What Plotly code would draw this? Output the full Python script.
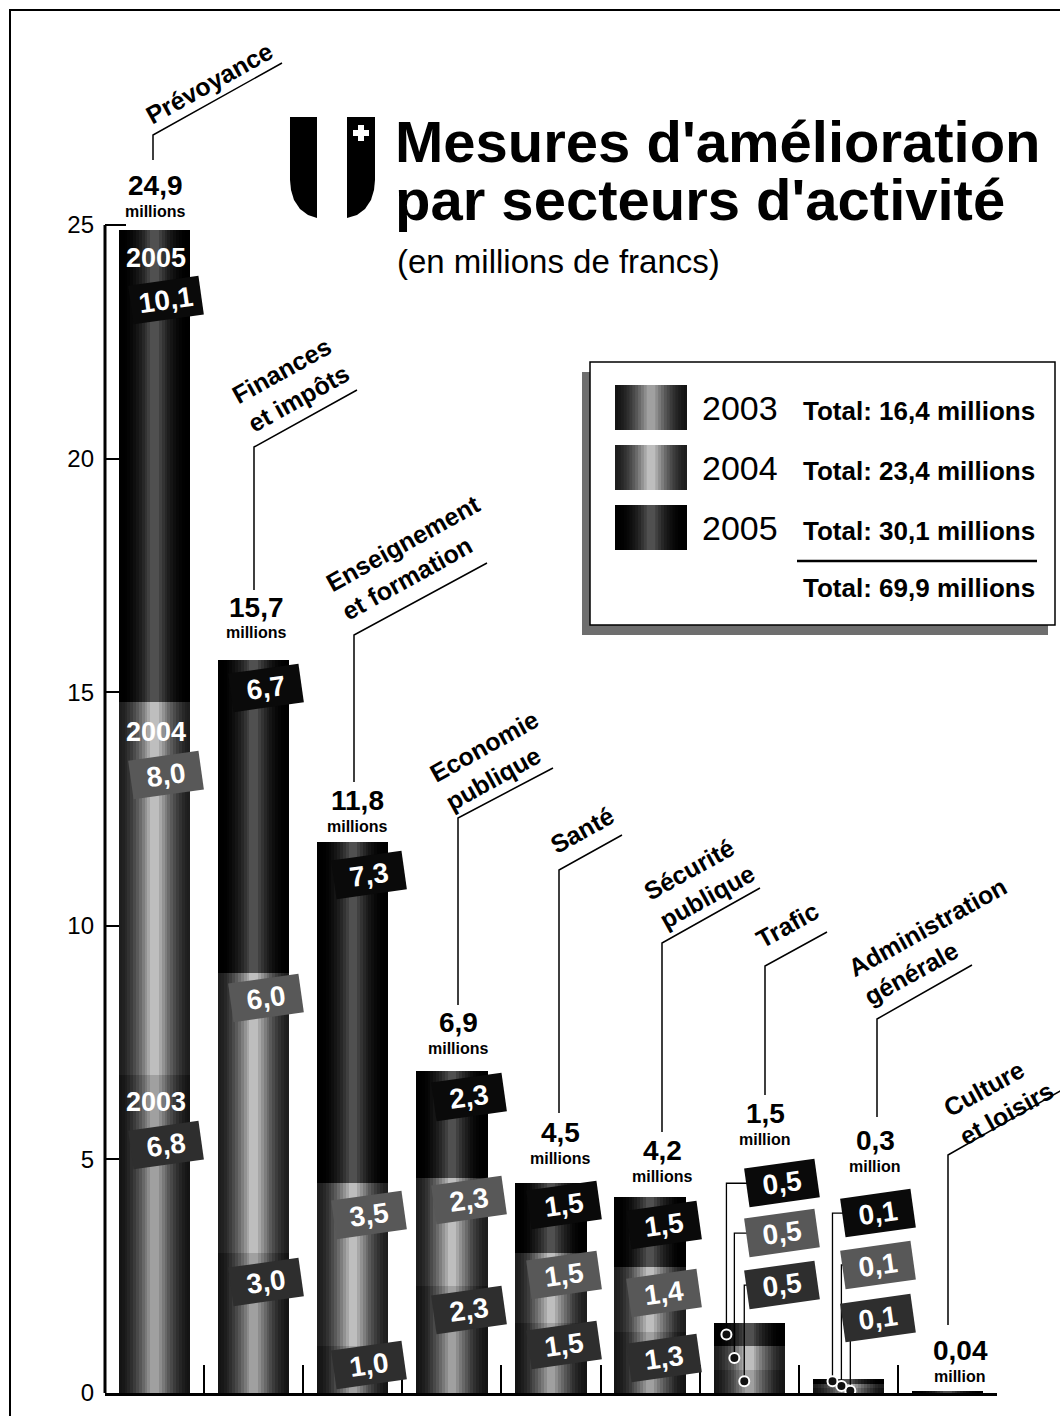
import plotly.graph_objects as go

# ---------------- data ----------------
categories = ["Prévoyance", "Finances<br>et impôts", "Enseignement<br>et formation",
              "Economie<br>publique", "Santé", "Sécurité<br>publique", "Trafic",
              "Administration<br>générale", "Culture<br>et loisirs"]
years = ["2003", "2004", "2005"]
v2003 = [6.8, 3.0, 1.0, 2.3, 1.5, 1.3, 0.5, 0.1, 0.01]
v2004 = [8.0, 6.0, 3.5, 2.3, 1.5, 1.4, 0.5, 0.1, 0.01]
v2005 = [10.1, 6.7, 7.3, 2.3, 1.5, 1.5, 0.5, 0.1, 0.02]
totals = [24.9, 15.7, 11.8, 6.9, 4.5, 4.2, 1.5, 0.3, 0.04]
total_units = ["millions"] * 6 + ["million"] * 3
year_totals = [16.4, 23.4, 30.1]
grand_total = 69.9
yticks = [0, 5, 10, 15, 20, 25]
ytick_labels = ["0", "5", "10", "15", "20", "25"]

# ---------------- geometry (layout only) ----------------
W, H = 1060, 1416
ML, MR, MT, MB = 105, 63, 0, 23
PW, PH = W - ML - MR, H - MT - MB
Y_TOP = 25 * PH / (1393 - 225)


def PX(x):
    return (x - ML) / PW


def PY(y):
    return (H - MB - y) / PH


def fmt(v):
    return str(v).replace(".", ",")


FONT = "Liberation Sans, Arial, sans-serif"
year_vals = [v2003, v2004, v2005]
bases = [[0] * 9,
         list(v2003),
         [a + b for a, b in zip(v2003, v2004)]]
xs = list(range(9))

edge_col = {"2003": (20, 20, 20), "2004": (30, 30, 30), "2005": (0, 0, 0)}
ctr_col = {"2003": (160, 160, 160), "2004": (190, 190, 190), "2005": (80, 80, 80)}
ctr_pow = {"2003": 1.6, "2004": 1.6, "2005": 2.2}
NL = 12
BAR_W = 0.72


def layer_list(yr):
    return [(1.0 - 0.88 * i / (NL - 1), (i / (NL - 1)) ** ctr_pow[yr]) for i in range(NL)]


def mix(a, b, t):
    return "rgb(%d,%d,%d)" % tuple(int(a[i] + (b[i] - a[i]) * t) for i in range(3))


fig = go.Figure()
for yi, yr in enumerate(years):
    for wf, t in layer_list(yr):
        fig.add_trace(go.Bar(
            x=xs, y=year_vals[yi], base=bases[yi], width=BAR_W * wf,
            marker=dict(color=mix(edge_col[yr], ctr_col[yr], t), line=dict(width=0)),
            showlegend=False, hoverinfo="skip"))

box_col = {"2003": "#2e2e2e", "2004": "#585858", "2005": "#0a0a0a"}

# value-label placement (data-unit y, offset in category units)
label_y = {
    0: [5.31, 13.23, 23.39], 1: [2.38, 8.45, 15.09], 2: [0.60, 3.81, 11.09],
    3: [1.78, 4.13, 6.34], 4: [1.03, 2.53, 4.02], 5: [0.75, 2.14, 3.60],
    6: [2.31, 3.42, 4.49], 7: [1.60, 2.74, 3.85]}
label_dx = {0: 0.12, 1: 0.12, 2: 0.16, 3: 0.17, 4: 0.13, 5: 0.14, 6: 0.33, 7: 0.30}

ann = []
for ci, ys in label_y.items():
    for yi, yr in enumerate(years):
        ann.append(dict(x=ci + label_dx[ci], y=ys[yi], xref="x", yref="y",
                        text="<b>%s</b>" % fmt(year_vals[yi][ci]), showarrow=False,
                        font=dict(family=FONT, size=28, color="white"),
                        bgcolor=box_col[yr], width=64, height=32, borderpad=3,
                        textangle=-8, xanchor="center", yanchor="middle"))

# year words on first bar
for yi, ypos in enumerate([6.23, 14.15, 24.29]):
    ann.append(dict(x=0.01, y=ypos, xref="x", yref="y", text="<b>%s</b>" % years[yi],
                    showarrow=False, xanchor="center", yanchor="middle",
                    font=dict(family=FONT, size=27, color="white")))

# leader lines + dots for small bars
dot_dx = {6: [-0.05, -0.15, -0.23], 7: [0.02, -0.07, -0.16]}
for ci, dxs in dot_dx.items():
    lx, ly, dxl, dyl = [], [], [], []
    for yi in range(3):
        mid = bases[yi][ci] + year_vals[yi][ci] / 2
        x0 = ci + label_dx[ci] - 0.35
        xd = ci + dxs[yi]
        lx += [x0, xd, xd, None]
        ly += [label_y[ci][yi], label_y[ci][yi], mid, None]
        dxl.append(xd)
        dyl.append(mid)
    fig.add_trace(go.Scatter(x=lx, y=ly, mode="lines", line=dict(color="black", width=1.3),
                             showlegend=False, hoverinfo="skip"))
    fig.add_trace(go.Scatter(x=dxl, y=dyl, mode="markers",
                             marker=dict(size=10, color="#111", line=dict(color="white", width=2)),
                             showlegend=False, hoverinfo="skip"))


def pann(x, y, text, size, bold=False, angle=0, xa="center", ya="middle", color="black", align="center"):
    return dict(x=PX(x), y=PY(y), xref="paper", yref="paper",
                text=("<b>%s</b>" % text) if bold else text, showarrow=False,
                xanchor=xa, yanchor=ya, textangle=angle, align=align,
                font=dict(family=FONT, size=size, color=color))


# totals above bars (pixel placement)
tot_px = [(155, 185), (256, 607), (357, 800), (458, 1022), (560, 1132),
          (662, 1150), (765, 1113), (875, 1140), (960, 1350)]
for i, (tx, ty) in enumerate(tot_px):
    ann.append(pann(tx, ty, fmt(totals[i]), 28, bold=True))
    ann.append(pann(tx, ty + 26, total_units[i], 16, bold=True))

# category names, rotated
cat_px = [(209, 83), (290, 384), (411, 557), (492, 760), (582, 830),
          (699, 882), (787, 925), (935, 941), (998, 1099)]
for i, (cx, cy) in enumerate(cat_px):
    ann.append(pann(cx, cy, categories[i], 25, bold=True, angle=-29, align="left"))

shapes = []
# underline + vertical leader for each category
lead = [((153, 135), (282, 63), 160), ((254, 447), (357, 390), 590),
        ((354, 635), (487, 563), 782), ((458, 818), (553, 768), 1005),
        ((559, 870), (622, 835), 1113), ((662, 943), (760, 888), 1132),
        ((765, 966), (827, 932), 1095), ((877, 1019), (972, 965), 1117),
        ((948, 1155), (1062, 1090), 1325)]
for (sx, sy), (ex, ey), vy in lead:
    shapes.append(dict(type="path", xref="paper", yref="paper",
                       path="M %f %f L %f %f L %f %f" % (PX(ex), PY(ey), PX(sx), PY(sy), PX(sx), PY(vy)),
                       line=dict(color="black", width=1.5)))

# y axis line from 0 to 25, with longer top tick
shapes.append(dict(type="line", xref="paper", yref="y", x0=0, x1=0, y0=0, y1=25,
                   line=dict(color="black", width=3)))
shapes.append(dict(type="line", xref="paper", yref="y", x0=0, x1=PX(126), y0=25, y1=25,
                   line=dict(color="black", width=2)))

# frame
shapes.append(dict(type="path", xref="paper", yref="paper",
                   path="M %f %f L %f %f L %f %f" % (PX(10), PY(1420), PX(10), PY(10), PX(1062), PY(10)),
                   line=dict(color="black", width=2)))


def ppath(pts, close=True):
    s = "M " + " L ".join("%f %f" % (PX(x), PY(y)) for x, y in pts)
    return s + (" Z" if close else "")


# Swiss shield logo
left_shield = [(290, 117), (317, 117), (317, 218), (308, 215), (300, 209), (294, 200), (291, 190), (290, 180)]
right_shield = [(347, 117), (375, 117), (375, 180), (374, 190), (371, 200), (365, 209), (357, 215), (347, 218)]
for pts in (left_shield, right_shield):
    shapes.append(dict(type="path", xref="paper", yref="paper", path=ppath(pts),
                       fillcolor="black", line=dict(width=0)))
for (x0, y0, x1, y1) in [(353, 130, 369, 136), (358, 125, 364, 141)]:
    shapes.append(dict(type="rect", xref="paper", yref="paper", x0=PX(x0), x1=PX(x1),
                       y0=PY(y1), y1=PY(y0), fillcolor="white", line=dict(width=0)))

# title
ann.append(pann(393, 142, "Mesures d'amélioration", 58, bold=True, xa="left"))
ann.append(pann(393, 200, "par secteurs d'activité", 58, bold=True, xa="left"))
ann.append(pann(395, 261, "(en millions de francs)", 33, xa="left"))

# legend box
shapes.append(dict(type="rect", xref="paper", yref="paper", x0=PX(582), x1=PX(1048),
                   y0=PY(635), y1=PY(372), fillcolor="#6e6e6e", line=dict(width=0)))
shapes.append(dict(type="rect", xref="paper", yref="paper", x0=PX(590), x1=PX(1055),
                   y0=PY(625), y1=PY(362), fillcolor="white", line=dict(color="black", width=1.5)))
row_y = [(385, 430), (445, 490), (505, 550)]
for yi, yr in enumerate(years):
    y0, y1 = row_y[yi]
    for wf, t in layer_list(yr):
        half = 36 * wf
        shapes.append(dict(type="rect", xref="paper", yref="paper", x0=PX(651 - half), x1=PX(651 + half),
                           y0=PY(y1), y1=PY(y0), fillcolor=mix(edge_col[yr], ctr_col[yr], t),
                           line=dict(width=0)))
    yc = (y0 + y1) / 2
    ann.append(pann(700, yc, yr, 34, xa="left"))
    ann.append(pann(1037, yc + 3, "Total: %s millions" % fmt(year_totals[yi]), 26, bold=True, xa="right"))
shapes.append(dict(type="line", xref="paper", yref="paper", x0=PX(797), x1=PX(1037),
                   y0=PY(561), y1=PY(561), line=dict(color="black", width=2.5)))
ann.append(pann(1037, 588, "Total: %s millions" % fmt(grand_total), 26, bold=True, xa="right"))

fig.update_layout(
    width=W, height=H, margin=dict(l=ML, r=MR, t=MT, b=MB, pad=0),
    paper_bgcolor="white", plot_bgcolor="rgba(0,0,0,0)",
    barmode="overlay", bargap=0, showlegend=False,
    annotations=ann, shapes=shapes,
    xaxis=dict(range=[-0.5, 8.5], tickvals=[i + 0.5 for i in range(9)], showticklabels=False,
               ticks="inside", ticklen=28, tickwidth=2, tickcolor="black",
               showline=True, linewidth=3, linecolor="black", showgrid=False, zeroline=False),
    yaxis=dict(range=[0, Y_TOP], tickvals=yticks, ticktext=ytick_labels,
               ticks="inside", ticklen=14, tickwidth=2, tickcolor="black",
               showline=False, showgrid=False, zeroline=False, ticklabelstandoff=10,
               tickfont=dict(family=FONT, size=24, color="black")),
)

fig.write_html("out.html", config={"displayModeBar": False},
               post_script="document.body.style.margin='0';document.body.style.overflow='hidden';")
